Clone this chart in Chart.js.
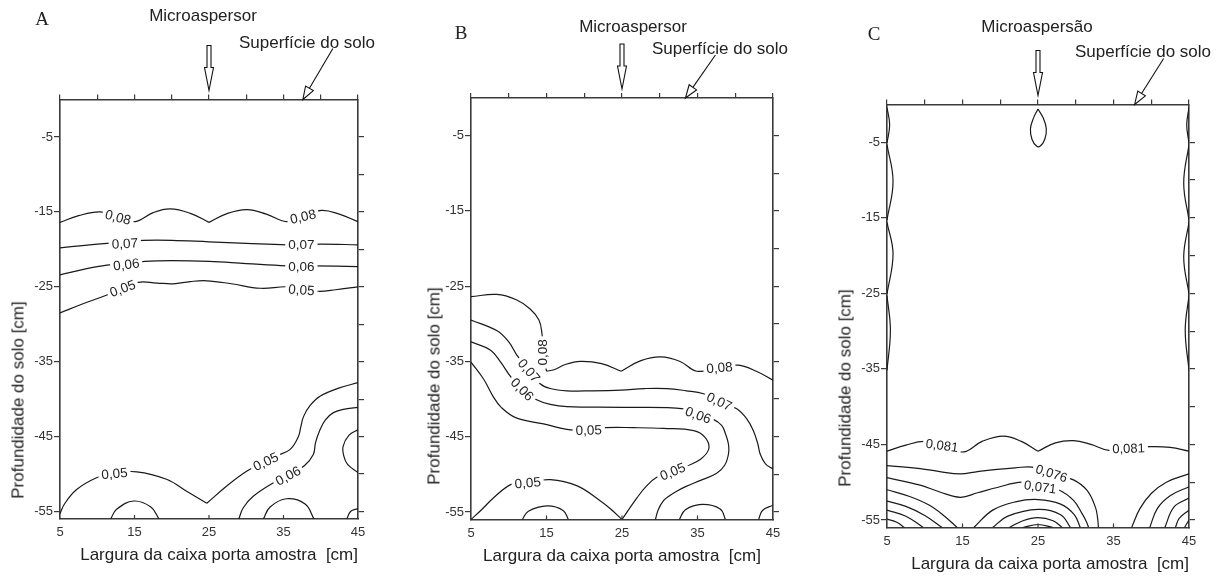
<!DOCTYPE html>
<html><head><meta charset="utf-8">
<script src="https://cdn.jsdelivr.net/npm/chart.js@4.4.1/dist/chart.umd.min.js"></script>
<style>
html,body{margin:0;padding:0;background:#fff;}
#wrap{position:relative;width:1226px;height:578px;overflow:hidden;font-family:"Liberation Sans",Arial,sans-serif;color:#222;}
canvas{position:absolute;left:0;top:0;}
.t{position:absolute;white-space:nowrap;font-size:17px;line-height:1;transform:translate(-50%,-50%);z-index:5;}
.letter{font-family:"Liberation Serif","DejaVu Serif",serif;font-size:19px;}
.yt{transform:translate(-50%,-50%) rotate(-90deg);}
</style></head>
<body>
<div id="wrap">
<canvas id="cA" width="1226" height="578"></canvas>
<canvas id="cB" width="1226" height="578"></canvas>
<canvas id="cC" width="1226" height="578"></canvas>
<div class="t letter" style="left:42px;top:18px">A</div>
<div class="t" style="left:203px;top:15px">Microaspersor</div>
<div class="t" style="left:307px;top:42px">Superfície do solo</div>
<div class="t yt" style="left:18px;top:400px">Profundidade do solo [cm]</div>
<div class="t letter" style="left:461px;top:32px">B</div>
<div class="t" style="left:633px;top:26px">Microaspersor</div>
<div class="t" style="left:720px;top:48px">Superfície do solo</div>
<div class="t yt" style="left:434px;top:386px">Profundidade do solo [cm]</div>
<div class="t letter" style="left:874px;top:33px">C</div>
<div class="t" style="left:1037px;top:26px">Microaspersão</div>
<div class="t" style="left:1143px;top:51px">Superfície do solo</div>
<div class="t yt" style="left:845px;top:388px">Profundidade do solo [cm]</div>
</div>
<script>
// ---- tick labels ----
const xMajorTicks = [5, 15, 25, 35, 45];
const xMinorTicks = [5, 10, 15, 20, 25, 30, 35, 40, 45];
const yMajorTicks = [-5, -15, -25, -35, -45, -55];
const yMinorTicks = [-5, -10, -15, -20, -25, -30, -35, -40, -45, -50, -55];
const xTitle = "Largura da caixa porta amostra  [cm]";

// ---- Panel A contours [x, y] ----
const a008L = [[5,-16.4],[7.5,-15.5],[10.4,-15.0],[12.8,-15.7],[15.1,-16.3],[17.5,-15.1],[19.8,-14.6],[22.5,-15.2],[25,-16.4]];
const a008R = [[25,-16.4],[27.5,-15.2],[30.1,-14.7],[32.7,-15.3],[35.4,-16.3],[37.6,-15.6],[40.1,-14.8],[42.5,-15.3],[45,-16.3]];
const a007 = [[5,-19.8],[8,-19.5],[11.3,-19.2],[13.8,-19.0],[16.2,-18.8],[20,-18.8],[25,-19.0],[30,-19.2],[35.4,-19.4],[37.6,-19.4],[40.1,-19.3],[45,-19.4]];
const a006 = [[5,-23.4],[8,-22.7],[11.3,-22.1],[13.9,-21.9],[16.4,-21.6],[20,-21.5],[25,-21.6],[30,-21.9],[35.4,-22.2],[39.1,-22.2],[45,-22.3]];
const a005 = [[5,-28.5],[8,-27.3],[11.3,-26.1],[13.4,-25.2],[15.5,-24.4],[18,-24.5],[20.2,-24.6],[22.5,-24.3],[24.7,-24.2],[28,-24.6],[31.9,-25.2],[35.4,-25.0],[37.5,-25.3],[39.7,-25.6],[42,-25.4],[45,-25.0]];
const a005bR = [[45,-37.8],[42.5,-38.5],[39.9,-39.6],[38.6,-40.8],[37.7,-42.3],[37.3,-43.8],[37.0,-45.0],[35.9,-46.7],[34,-47.6],[32.5,-48.3],[30.1,-49.6],[27.5,-51.5],[24.7,-53.9]];
const a005bL = [[24.7,-53.9],[22,-52.3],[19.3,-50.7],[15.3,-49.7],[12.2,-49.9],[9.9,-50.5],[7.2,-52.1],[5.6,-54.0],[5,-55.3]];
const a006b = [[45,-41.1],[43.4,-41.3],[41.7,-41.8],[40.6,-42.8],[39.9,-44.1],[39.3,-45.8],[39.0,-47.4],[37.8,-48.9],[35.6,-50.2],[33.6,-51.2],[30.9,-53.0],[29.6,-54.5],[29.0,-56]];
const aRing = [[45,-44.1],[43.8,-44.8],[43.0,-46.3],[43.1,-47.6],[43.6,-48.7],[45,-49.8]];
const aSemi15 = [[11.8,-56],[12.6,-54.7],[14.9,-53.6],[17.2,-54.4],[18.3,-56]];
const aSemi36 = [[32.3,-56],[33.2,-54.4],[35.4,-53.3],[37.9,-54.0],[39.1,-56]];
const aCorner = [[43.5,-56],[44.0,-55.0],[45,-54.6]];
const labelsA = [["0,08",12.8,-15.7,15],["0,08",37.6,-15.6,-13],["0,07",13.7,-19.2,-3],["0,07",37.4,-19.3,0],
  ["0,06",13.9,-22.0,-7],["0,06",37.4,-22.2,0],["0,05",13.4,-25.2,-20],["0,05",37.4,-25.4,4],
  ["0,05",12.3,-49.9,-5],["0,05",32.6,-48.3,-25],["0,06",35.6,-50.2,-28]];

// ---- Panel B contours ----
const b008a = [[5,-26.4],[8.4,-26.1],[11,-26.8],[12.8,-28.0],[14.0,-29.5],[14.4,-31.3],[14.6,-34],[15.0,-36.3]];
const b008b = [[15.0,-36.3],[16,-36.1],[17.5,-35.4],[19.5,-35.0],[22.3,-35.3],[24.9,-36.3]];
const b008c = [[24.9,-36.3],[27.5,-34.9],[30.1,-34.4],[32.7,-35.0],[34.9,-36.3],[37.9,-35.8],[40.4,-35.5],[42.8,-36.3],[45,-37.5]];
const b007 = [[5,-29.5],[8.4,-30.9],[10.0,-32.4],[11.1,-34.2],[12.6,-36.1],[14.2,-38.0],[15.5,-38.6],[17.7,-38.9],[21,-38.9],[24.9,-38.8],[28,-38.6],[30.9,-38.6],[33.5,-38.9],[35.8,-39.3],[37.9,-40.3],[40.2,-41.3],[41.5,-42.6],[42.4,-44.2],[43.0,-46.0],[43.3,-47.3],[44.0,-48.6],[45,-49.3]];
const b006 = [[5,-32.4],[7.6,-33.5],[9,-35.2],[10.3,-37.1],[11.8,-38.7],[13.7,-40.1],[15.5,-40.7],[17.7,-41.0],[24.9,-41.1],[33.2,-41.3],[35.1,-42.1],[37.1,-42.7],[38.2,-43.5],[38.7,-44.6],[39.1,-46.0],[39.1,-47.3],[38.6,-48.8],[37.5,-49.9],[35.4,-50.8],[33.5,-51.6],[32.3,-52.2],[31.2,-52.9],[30.5,-53.5],[29.8,-54.7],[29.4,-56.1]];
const b005R = [[5,-35.1],[6.7,-37.4],[7.9,-39.6],[9.0,-41.1],[11,-42.5],[14.6,-43.3],[18.2,-44.1],[20.6,-44.1],[22.8,-43.8],[26.5,-43.8],[30.5,-43.9],[34.5,-44.2],[36.0,-45.1],[36.5,-46.6],[35.4,-48.0],[33.6,-48.9],[31.7,-49.6],[29.6,-50.4],[28.2,-51.6],[27.0,-53.1],[25,-56]];
const b005L = [[25,-56],[23.5,-54.6],[22.1,-53.5],[19,-51.5],[15.5,-50.7],[12.5,-51.1],[10.4,-51.3],[8.0,-53.1],[6.5,-54.6],[5,-56]];
const bSemi15 = [[11.8,-56],[12.6,-54.9],[15.1,-54.2],[17.2,-54.8],[17.9,-56]];
const bSemi36 = [[32.6,-56],[33.4,-54.7],[35.6,-54.0],[38.0,-54.6],[38.7,-56]];
const bCorner = [[43.1,-56],[43.6,-54.8],[45,-54.1]];
const labelsB = [["0,08",14.5,-33.8,-90],["0,08",37.9,-35.8,-5],["0,07",12.7,-36.2,50],["0,07",37.9,-40.3,25],
  ["0,06",11.8,-38.7,45],["0,06",35.1,-42.1,20],["0,05",20.6,-44.1,-2],["0,05",31.7,-49.6,-22],["0,05",12.5,-51.1,-5]];

// ---- Panel C contours ----
const c081L = [[5,-45.9],[7.5,-45.1],[9.9,-44.6],[12.3,-45.1],[15.1,-46.0],[17.6,-44.6],[20.4,-43.9],[22.8,-44.6],[25,-45.9]];
const c081R = [[25,-45.9],[27.3,-44.8],[29.7,-44.5],[32,-45.0],[34.4,-45.8],[37.0,-45.5],[39.9,-45.3],[42.5,-45.4],[45,-45.9]];
const c076 = [[5,-47.8],[9.4,-48.2],[12,-48.6],[14.7,-48.9],[17,-48.6],[19.6,-48.3],[22,-48.1],[24.2,-48.0],[26.8,-48.8],[29.7,-49.7],[31.5,-51.1],[32.6,-53.3],[32.9,-54.8],[33.0,-56]];
const c071 = [[5,-49.4],[9.4,-50.4],[12,-51.3],[14.7,-52.0],[17,-51.4],[19.6,-50.7],[22.9,-50.0],[25.3,-50.5],[27.7,-51.0],[29.7,-52.4],[30.8,-54.1],[31.4,-55.2],[31.7,-56]];
const cLeft1 = [[5,-51.0],[8,-51.9],[10.5,-53.0],[12.5,-54.4],[14.3,-56]];
const cLeft2 = [[5,-52.5],[7.5,-53.2],[10,-54.4],[12.3,-56]];
const cLeft3 = [[5,-53.7],[7.5,-54.5],[9.8,-56]];
const cLeft4 = [[5,-54.9],[6.3,-55.3],[7.3,-56]];
const cMid1 = [[16.5,-56],[19,-53.7],[22,-52.6],[25,-52.3],[28,-52.9],[29.8,-54.3],[30.6,-56]];
const cMid2 = [[19.0,-56],[21,-54.5],[25,-53.6],[28,-54.3],[29.3,-56]];
const cMid3 = [[21.2,-56],[23,-55.1],[25,-54.7],[27,-55.1],[28.2,-56]];
const cMid4 = [[23.0,-56],[25,-55.6],[27.0,-56]];
const cRight1 = [[45,-48.9],[42,-50],[40,-51.5],[38.5,-53.5],[37.4,-56]];
const cRight2 = [[45,-50.6],[42.5,-51.8],[40.8,-53.5],[39.8,-56]];
const cRight3 = [[45,-52.1],[43,-53.3],[41.8,-56]];
const cRight4 = [[45,-53.7],[43.7,-54.8],[43.2,-56]];
const cRight5 = [[45,-55.0],[44.4,-56]];
const cEdgeL1 = [[5,-0.4],[5.35,-2.7],[5,-5.1]];
const cEdgeL2 = [[5,-5.3],[5.8,-10.2],[5,-15.3]];
const cEdgeL3 = [[5,-15.6],[5.8,-19.8],[5,-25.1]];
const cEdgeL4 = [[5,-25.3],[5.45,-29.9],[5,-35.2]];
const cEdgeR1 = [[45,-0.4],[44.7,-2.7],[45,-5.1]];
const cEdgeR2 = [[45,-5.3],[44.3,-10.4],[45,-15.3]];
const cEdgeR3 = [[45,-15.6],[44.3,-20.2],[45,-25.1]];
const cEdgeR4 = [[45,-25.3],[44.5,-29.9],[45,-35.2]];
const cTop = [[25,-0.6],[24.4,-1.8],[24.0,-3.2],[24.2,-4.6],[24.8,-5.5],[25.3,-5.5],[25.9,-4.6],[26.1,-3.2],[25.7,-1.8],[25,-0.6]];
const labelsC = [["0,081",12.3,-45.1,8],["0,081",37.0,-45.5,-2],["0,076",26.8,-48.8,18],["0,071",25.3,-50.6,8]];

const FONT = '"Liberation Sans", Arial, sans-serif';
const AXIS = '#3a3a3a';
const LINE = '#1a1a1a';
Chart.defaults.font.family = FONT;

function annotPlugin(opts){
  return {
    id: 'annot',
    afterDatasetsDraw(chart){
      const {ctx, scales:{x, y}} = chart;
      ctx.save();
      ctx.font = opts.labelFont;
      ctx.textAlign = 'center'; ctx.textBaseline = 'middle';
      opts.labels.forEach(([t, vx, vy, rot]) => {
        const px = x.getPixelForValue(vx), py = y.getPixelForValue(vy);
        ctx.save(); ctx.translate(px, py); ctx.rotate(rot * Math.PI / 180);
        const w = ctx.measureText(t).width;
        ctx.fillStyle = '#fff'; ctx.fillRect(-w/2 - 3, -6, w + 6, 12);
        ctx.fillStyle = '#222'; ctx.fillText(t, 0, 1);
        ctx.restore();
      });
      ctx.restore();
    },
    afterDraw(chart){
      const {ctx, chartArea, scales:{x}} = chart;
      ctx.save();
      ctx.strokeStyle = '#111'; ctx.fillStyle = '#fff'; ctx.lineWidth = 1.1;
      // sprinkler arrow
      const ax = x.getPixelForValue(25), top = chartArea.top;
      const y0 = top - 54, hs = top - 32, tip = top - 9;
      ctx.beginPath();
      ctx.moveTo(ax - 2, y0); ctx.lineTo(ax + 2, y0); ctx.lineTo(ax + 2, hs);
      ctx.lineTo(ax + 4.5, hs); ctx.lineTo(ax, tip); ctx.lineTo(ax - 4.5, hs);
      ctx.lineTo(ax - 2, hs); ctx.closePath(); ctx.fill(); ctx.stroke();
      // surface arrow
      const tx = x.getPixelForValue(opts.surfX), ty = top;
      const ex = tx + opts.tail[0], ey = ty + opts.tail[1];
      const L = Math.hypot(ex - tx, ey - ty), ux = (ex - tx) / L, uy = (ey - ty) / L;
      const bx = tx + ux * 13, by = ty + uy * 13;
      ctx.beginPath(); ctx.moveTo(ex, ey); ctx.lineTo(bx, by); ctx.stroke();
      ctx.beginPath(); ctx.moveTo(tx, ty);
      ctx.lineTo(bx - uy * 4.5, by + ux * 4.5); ctx.lineTo(bx + uy * 4.5, by - ux * 4.5);
      ctx.closePath(); ctx.fill(); ctx.stroke();
      // inward bottom ticks
      ctx.strokeStyle = AXIS; ctx.lineWidth = 1.2;
      [15, 25, 35].forEach(v => {
        const px = x.getPixelForValue(v);
        ctx.beginPath(); ctx.moveTo(px, chartArea.bottom); ctx.lineTo(px, chartArea.bottom - 4); ctx.stroke();
      });
      ctx.restore();
    }
  };
}

function makePanel(id, area, lines, labels, surfX, tail, titleAlign, labelFont){
  const datasets = lines.map(arr => ({
    data: arr.map(([x, y]) => ({x, y})),
    showLine: true, pointRadius: 0, borderColor: LINE, borderWidth: 1.2,
    tension: 0.4, fill: false, xAxisID: 'x', yAxisID: 'y'
  }));
  const setTicks = vals => s => { s.ticks = vals.map(v => ({value: v})); };
  const grid = len => ({drawOnChartArea: false, drawTicks: true, tickLength: len, color: AXIS, lineWidth: 1.2});
  const border = {display: true, color: AXIS, width: 1.6};
  new Chart(document.getElementById(id), {
    type: 'scatter',
    data: {datasets},
    options: {
      responsive: false, animation: false, events: [],
      layout: {padding: {left: area.l - 40, right: 1226 - area.r - 10, top: area.t - 10, bottom: 578 - area.b - 50}},
      plugins: {legend: {display: false}, tooltip: {enabled: false}},
      scales: {
        x: {type: 'linear', position: 'bottom', min: 5, max: 45,
            afterBuildTicks: setTicks(xMajorTicks), afterFit: s => { s.height = 50; },
            grid: {drawOnChartArea: false, drawTicks: false}, border,
            ticks: {padding: 6, color: '#333', font: {size: 13}},
            title: {display: true, text: xTitle, align: titleAlign, color: '#222', font: {size: 17}, padding: {top: 0, bottom: 3}}},
        xTop: {type: 'linear', position: 'top', min: 5, max: 45,
            afterBuildTicks: setTicks(xMinorTicks), afterFit: s => { s.height = 10; },
            grid: grid(5), border, ticks: {display: false}},
        y: {type: 'linear', position: 'left', min: -56, max: 0,
            afterBuildTicks: setTicks(yMajorTicks), afterFit: s => { s.width = 40; },
            grid: grid(6), border, ticks: {padding: 1, color: '#333', font: {size: 13}}},
        yRight: {type: 'linear', position: 'right', min: -56, max: 0,
            afterBuildTicks: setTicks(yMinorTicks), afterFit: s => { s.width = 10; },
            grid: grid(6), border, ticks: {display: false}}
      }
    },
    plugins: [annotPlugin({labels, surfX, tail, labelFont})]
  });
}

makePanel('cA', {l: 60, t: 99.5, r: 358, b: 519},
  [a008L, a008R, a007, a006, a005, a005bR, a005bL, a006b, aRing, aSemi15, aSemi36, aCorner],
  labelsA, 37.6, [30, -51], 'end', '13.5px ' + FONT);
makePanel('cB', {l: 471, t: 98, r: 773, b: 519.5},
  [b008a, b008b, b008c, b007, b006, b005R, b005L, bSemi15, bSemi36, bCorner],
  labelsB, 33.4, [30, -43], 'center', '13.5px ' + FONT);
makePanel('cC', {l: 887, t: 104.5, r: 1189, b: 527.5},
  [c081L, c081R, c076, c071, cLeft1, cLeft2, cLeft3, cLeft4, cMid1, cMid2, cMid3, cMid4,
   cRight1, cRight2, cRight3, cRight4, cRight5, cEdgeL1, cEdgeL2, cEdgeL3, cEdgeL4,
   cEdgeR1, cEdgeR2, cEdgeR3, cEdgeR4, cTop],
  labelsC, 37.8, [29, -46], 'end', '13px ' + FONT);
</script>
</body></html>
